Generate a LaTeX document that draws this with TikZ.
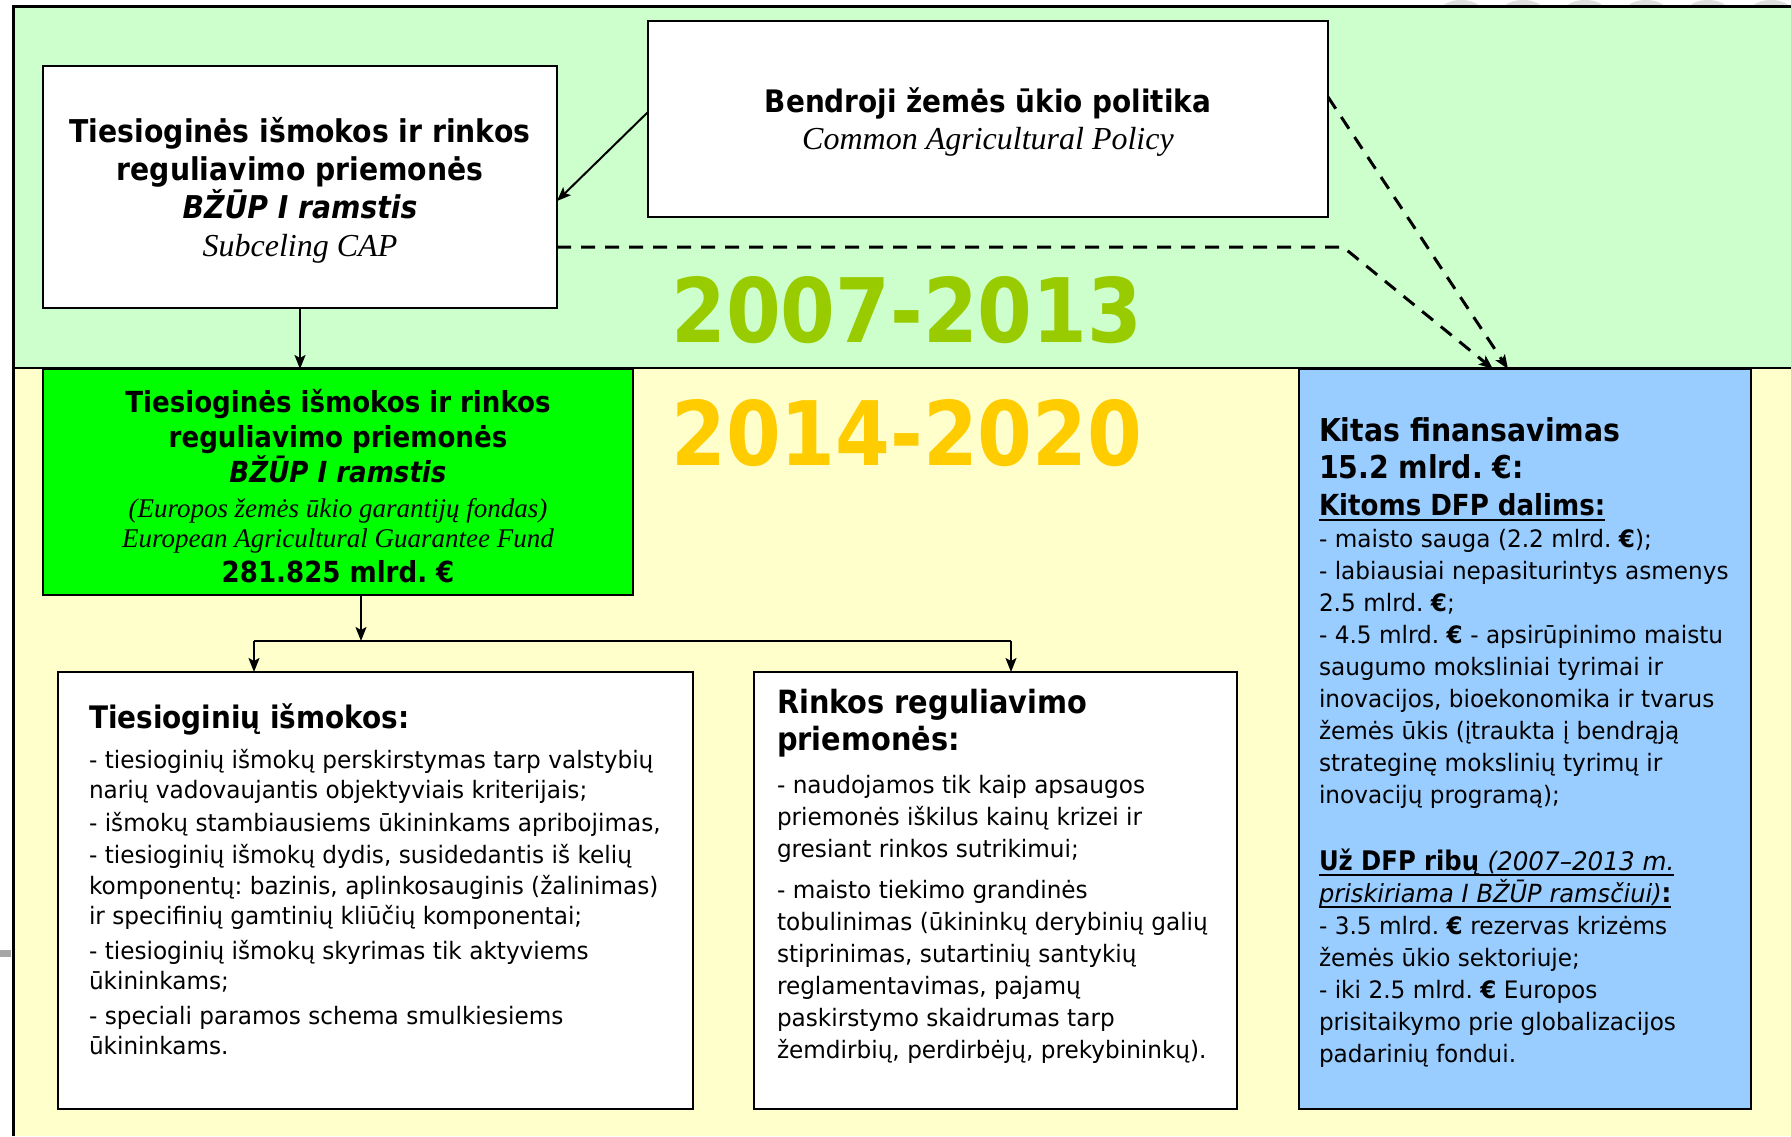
\documentclass[tikz,border=0pt]{standalone}
\usepackage{fontspec}
\usetikzlibrary{calc,arrows.meta}
\setmainfont{DejaVu Sans}[FakeStretch=0.965]
\newfontfamily\hb{DejaVu Sans}[FakeStretch=0.9]
\newfontfamily\yr{DejaVu Sans}[FakeStretch=0.885]
\newfontfamily\tnr{Liberation Serif}
\newcommand\bodyf[2]{\frenchspacing\fontsize{#1}{#2}\selectfont\spaceskip=0.31em\relax}
\newcommand\headf[2]{\frenchspacing\hb\bfseries\fontsize{#1}{#2}\selectfont\spaceskip=0.31em\relax}
\newcommand\serf[2]{\tnr\mdseries\itshape\fontsize{#1}{#2}\selectfont\spaceskip=0.25em\relax}
\newcommand\obf[1]{\itshape\fontsize{#1}{32}\selectfont\spaceskip=0.31em\relax}
\newsavebox\ulbox
\newcommand\myul[1]{\leavevmode\sbox\ulbox{#1}\rlap{\rule[-5.5pt]{\wd\ulbox}{1.6pt}}\usebox\ulbox}
\definecolor{bandgreen}{HTML}{CCFFCC}
\definecolor{bandyellow}{HTML}{FFFFCC}
\definecolor{boxgreen}{HTML}{00FF00}
\definecolor{boxblue}{HTML}{99CCFF}
\definecolor{yrgreen}{HTML}{99CC00}
\definecolor{yrgold}{HTML}{FFCC00}
\begin{document}
\begin{tikzpicture}[x=1pt,y=-1pt,
  box/.style={draw=black, line width=2pt, anchor=north west, inner sep=0pt, outer sep=0pt},
  arr/.style={line width=2pt, -{Stealth[length=14pt,width=11pt,inset=3pt]}},
  darr/.style={line width=3pt, dash pattern=on 14pt off 10pt, -{Stealth[length=14pt,width=11pt,inset=3pt]}},
  ctext/.style={anchor=base, inner sep=0pt, outer sep=0pt, align=center},
  ltext/.style={anchor=base west, inner sep=0pt, outer sep=0pt, align=left},
  yeartext/.style={anchor=base west, inner sep=0pt, font=\yr\bfseries\fontsize{89}{89}\selectfont}]
\useasboundingbox (0,0) rectangle (1791,1136);
\fill[white] (0,0) rectangle (1791,1136);
% gray bumps at top right
\foreach \cx in {1461,1523,1585,1646,1708,1771}
  \fill[gray!25] (\cx,9) ellipse [x radius=19pt, y radius=9pt];
% bands
\fill[bandgreen] (13,6) rectangle (1791,368);
\fill[bandyellow] (13,368) rectangle (1791,1136);
\draw[line width=3pt] (13,1136) -- (13,6) -- (1791,6);
\draw[line width=2pt] (13,368) -- (1791,368);
\fill[gray!70] (0,950) rectangle (11,957);
% boxes
\node[box, fill=white, minimum width=514pt, minimum height=242pt] (b1) at (43,66) {};
\node[box, fill=white, minimum width=680pt, minimum height=196pt] (cap) at (648,21) {};
\node[box, fill=boxgreen, minimum width=590pt, minimum height=226pt] (gbox) at (43,369) {};
\node[box, fill=boxblue, minimum width=452pt, minimum height=740pt] (blue) at (1299,369) {};
\node[box, fill=white, minimum width=635pt, minimum height=437pt] (b5) at (58,672) {};
\node[box, fill=white, minimum width=483pt, minimum height=437pt] (b6) at (754,672) {};
% years
\node[yeartext, text=yrgreen] (y1) at (671,342) {2007-2013};
\node[yeartext, text=yrgold] (y2) at (671,465) {2014-2020};
% connectors
\coordinate (capL) at ($(cap.north west)+(0,91)$);
\coordinate (b1R) at ($(b1.north east)+(0,135)$);
\draw[arr] (capL) -- (b1R);
\draw[arr] (b1.south) -- (b1.south |- gbox.north);
\coordinate (gS) at ($(gbox.south west)+(318,0)$);
\coordinate (jl) at (254,641);
\coordinate (jr) at (1011,641);
\draw[arr] (gS) -- (gS |- jl);
\draw[line width=2pt] (jl) -- (jr);
\draw[arr] (jl) -- (jl |- b5.north);
\draw[arr] (jr) -- (jr |- b6.north);
\coordinate (capR) at ($(cap.north east)+(0,76)$);
\coordinate (blueA) at ($(blue.north west)+(209,0)$);
\coordinate (blueB) at ($(blue.north west)+(194,0)$);
\coordinate (b1D) at ($(b1.north east)+(0,181)$);
\coordinate (bend) at (1343,247);
\draw[darr] (capR) -- (blueA);
\draw[darr] (b1D) -- (bend) -- (blueB);
% texts
\node[ctext, text width=500pt] (t1) at (300,142) {\headf{31.4}{38}%
  Tiesioginės išmokos ir rinkos\\ reguliavimo priemonės\\ {\itshape BŽŪP I ramstis}\\
  {\serf{32}{38}Subceling CAP}\par};
\node[ctext, text width=660pt] (tcap) at (988,112) {\headf{31}{37}%
  Bendroji žemės ūkio politika\\
  {\serf{32}{37}Common Agricultural Policy}\par};
\node[ctext, text width=580pt] (tg) at (338,412) {\headf{29}{35}%
  Tiesioginės išmokos ir rinkos\\ reguliavimo priemonės\\ {\itshape BŽŪP I ramstis}\\
  {\serf{27}{35}(Europos žemės ūkio garantijų fondas)}\\[-5pt]
  {\serf{27}{35}European Agricultural Guarantee Fund}\\
  281.825 mlrd. €\par};
\node[ltext, text width=600pt] (t5h) at (89,728) {\headf{31}{37}Tiesioginių išmokos:\par};
\node[ltext, text width=600pt] (t5b) at (89,768) {\bodyf{24}{30}%
  - tiesioginių išmokų perskirstymas tarp valstybių\\
  narių vadovaujantis objektyviais kriterijais;\\[3pt]
  - išmokų stambiausiems ūkininkams apribojimas,\\[2pt]
  - tiesioginių išmokų dydis, susidedantis iš kelių\\[1pt]
  komponentų: bazinis, aplinkosauginis (žalinimas)\\
  ir specifinių gamtinių kliūčių komponentai;\\[5pt]
  - tiesioginių išmokų skyrimas tik aktyviems\\
  ūkininkams;\\[5pt]
  - speciali paramos schema smulkiesiems\\
  ūkininkams.\par};
\node[ltext, text width=460pt] (t6h) at (777,713) {\headf{32}{37}Rinkos reguliavimo\\ priemonės:\par};
\node[ltext, text width=460pt] (t6b) at (777,793) {\bodyf{24}{32}%
  - naudojamos tik kaip apsaugos\\
  priemonės iškilus kainų krizei ir\\
  gresiant rinkos sutrikimui;\\[9pt]
  - maisto tiekimo grandinės\\
  tobulinimas (ūkininkų derybinių galių\\
  stiprinimas, sutartinių santykių\\
  reglamentavimas, pajamų\\
  paskirstymo skaidrumas tarp\\
  žemdirbių, perdirbėjų, prekybininkų).\par};
\node[ltext, text width=440pt] (tbh) at (1319,441) {\headf{31.5}{37}%
  Kitas finansavimas\\ 15.2 mlrd. €:\\ {\headf{29}{37}\myul{Kitoms DFP dalims:}}\par};
\node[ltext, text width=440pt] (tbb1) at (1319,547) {\bodyf{24}{32}%
  - maisto sauga (2.2 mlrd. \textbf{€});\\
  - labiausiai nepasiturintys asmenys\\
  2.5 mlrd. \textbf{€};\\
  - 4.5 mlrd. \textbf{€} - apsirūpinimo maistu\\
  saugumo moksliniai tyrimai ir\\
  inovacijos, bioekonomika ir tvarus\\
  žemės ūkis (įtraukta į bendrąją\\
  strateginę mokslinių tyrimų ir\\
  inovacijų programą);\par};
\node[ltext, text width=440pt] (tbb2) at (1319,870) {\bodyf{24}{32}%
  \myul{{\headf{27}{32}Už DFP ribų }{\obf{25.5}(2007–2013 m.}}\\
  \myul{{\obf{25}priskiriama I BŽŪP ramsčiui)}{\headf{27}{32}:}}\\
  - 3.5 mlrd. \textbf{€} rezervas krizėms\\
  žemės ūkio sektoriuje;\\
  - iki 2.5 mlrd. \textbf{€} Europos\\
  prisitaikymo prie globalizacijos\\
  padarinių fondui.\par};
\end{tikzpicture}
\end{document}
